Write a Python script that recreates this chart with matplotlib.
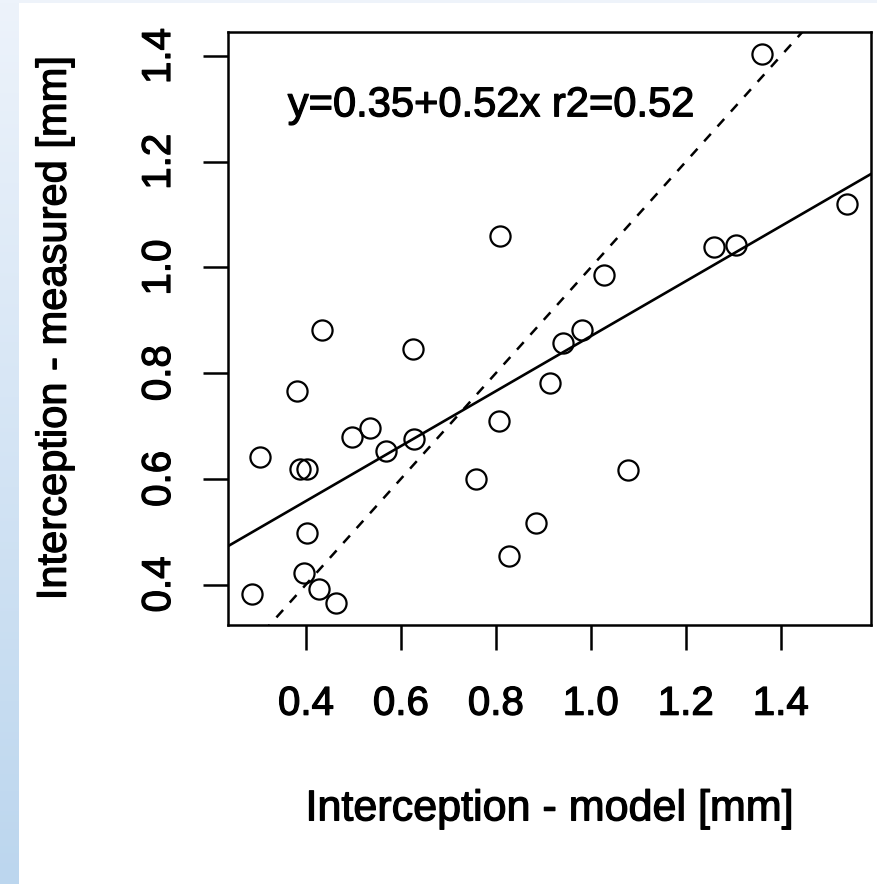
import numpy as np
import matplotlib
matplotlib.use("Agg")
import matplotlib.pyplot as plt
import matplotlib.patheffects as pe

plt.rcParams['font.family'] = ['Liberation Sans', 'DejaVu Sans']

# interception, model vs measured (mm)
model = [1.361, 1.540, 1.260, 1.306, 0.809, 1.028, 0.982, 0.942, 0.434, 0.626,
         0.382, 0.915, 0.534, 0.496, 0.628, 0.569, 0.807, 0.304, 0.388, 0.402,
         1.078, 0.758, 0.403, 0.885, 0.828, 0.395, 0.428, 0.464, 0.286]
measured = [1.404, 1.120, 1.038, 1.042, 1.059, 0.986, 0.881, 0.857, 0.881, 0.845,
            0.767, 0.782, 0.697, 0.680, 0.675, 0.653, 0.710, 0.642, 0.618, 0.618,
            0.617, 0.600, 0.497, 0.517, 0.454, 0.422, 0.392, 0.365, 0.383]
intercept, slope, r2 = 0.35, 0.52, 0.52
ticks = [0.4, 0.6, 0.8, 1.0, 1.2, 1.4]

W, H = 877, 884
fig = plt.figure(figsize=(W / 100, H / 100), dpi=100)
bold = [pe.withStroke(linewidth=0.9, foreground="black")]

# light blue strip on the left edge
strip = fig.add_axes([0, 0, 19 / W, 1])
grad = np.linspace(0, 1, 256).reshape(-1, 1)
cmap = matplotlib.colors.LinearSegmentedColormap.from_list("s", ["#bcd6ee", "#edf3fb"])
strip.imshow(grad, aspect="auto", cmap=cmap, origin="lower")
strip.axis("off")
top = fig.add_axes([19 / W, 1 - 3 / H, 1, 3 / H])
top.axis("off")
top.add_patch(plt.Rectangle((0, 0), 1, 1, color="#eef3fa", transform=top.transAxes))

ax = fig.add_axes([228 / W, 1 - 625 / H, (871 - 228) / W, (625 - 32) / H])

ax.plot(model, measured, "o", mfc="none", mec="black", ms=14.5, mew=1.6)

xr = np.array([0.0, 2.0])
ax.plot(xr, intercept + slope * xr, color="black", lw=1.9)
ax.plot(xr, xr, color="black", lw=1.8, dashes=(4, 4))

dx = (max(model) - min(model)) * 0.04
dy = (max(measured) - min(measured)) * 0.04
ax.set_xlim(min(model) - dx, max(model) + dx)
ax.set_ylim(min(measured) - dy, max(measured) + dy)

ax.text(0.79, 1.286, f"y={intercept:.2f}+{slope:.2f}x r2={r2:.2f}",
        ha="center", va="baseline", fontsize=30, path_effects=bold)

ax.set_xticks(ticks)
ax.set_yticks(ticks)
ax.set_xticklabels([f"{t:.1f}" for t in ticks], fontsize=29, path_effects=bold)
ax.set_yticklabels([f"{t:.1f}" for t in ticks], fontsize=29, rotation=90, va="center",
                   path_effects=bold)
ax.tick_params(length=18, width=1.8)
ax.tick_params(axis="x", pad=25)
ax.tick_params(axis="y", pad=18)
for s in ax.spines.values():
    s.set_linewidth(1.8)

ax.set_xlabel("Interception - model [mm]", fontsize=31, labelpad=48, path_effects=bold)
ax.set_ylabel("Interception - measured [mm]", fontsize=30, labelpad=47, path_effects=bold)

fig.savefig("out.png", dpi=100)
